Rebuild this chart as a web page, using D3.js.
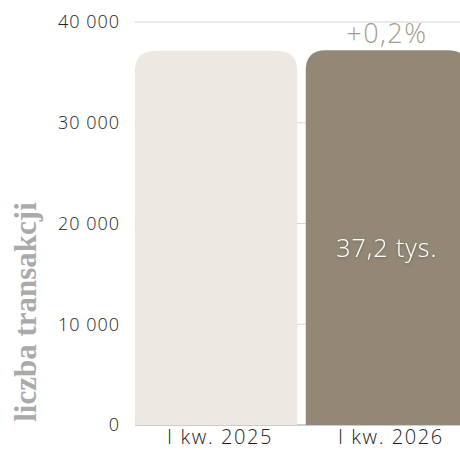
<!DOCTYPE html>
<html>
<head>
<meta charset="utf-8">
<script src="https://cdn.jsdelivr.net/npm/d3@7"></script>
<style>
  body { margin: 0; background: #fff; }
  svg { display: block; }
  .tick text { font-family: "Open Sans", Lato, sans-serif; font-weight: 300; fill: #222; }
</style>
</head>
<body>
<div id="chart"></div>
<script>
// data
const quarters = ["I kw. 2025", "I kw. 2026"];
const transactions = [37130, 37200];
const yTicks = [0, 10000, 20000, 30000, 40000];
const changeLabel = "+0,2%";
const valueLabel = "37,2 tys.";

const width = 460, height = 450;
const margin = { top: 22, right: -8, bottom: 25, left: 135 };

const svg = d3.select("#chart").append("svg")
    .attr("width", width)
    .attr("height", height);

const x = d3.scaleBand()
    .domain(quarters)
    .range([margin.left, width - margin.right])
    .paddingInner(0.05);

const y = d3.scaleLinear()
    .domain([0, 40000])
    .range([height - margin.bottom, margin.top]);

// grid
svg.append("g")
    .selectAll("line")
    .data(yTicks)
    .join("line")
    .attr("x1", margin.left)
    .attr("x2", width)
    .attr("y1", d => y(d))
    .attr("y2", d => y(d))
    .attr("stroke", d => d === 0 ? "#999" : "#d6d6d6")
    .attr("stroke-width", 1);

// y axis labels
const fmt = d => d3.format(",")(d).replace(/,/g, " ");
const yAxis = svg.append("g")
    .attr("transform", `translate(${margin.left},0)`)
    .call(d3.axisLeft(y).tickValues(yTicks).tickFormat(fmt).tickSize(0).tickPadding(15));
yAxis.select(".domain").remove();
yAxis.selectAll("text").style("font-size", "18px").style("letter-spacing", "1px");

// x axis labels
const xAxis = svg.append("g")
    .attr("transform", `translate(0,${height - margin.bottom})`)
    .call(d3.axisBottom(x).tickSize(0).tickPadding(5));
xAxis.select(".domain").remove();
xAxis.selectAll("text").style("font-size", "20px").style("letter-spacing", "1.6px").attr("dx", "4px");

// bars, rounded top corners only
const colors = ["#ede8e1", "#928875"];
const r = 20;
function barPath(x0, y0, w, h) {
    return `M${x0},${y0 + h}V${y0 + r}Q${x0},${y0} ${x0 + r},${y0}H${x0 + w - r}Q${x0 + w},${y0} ${x0 + w},${y0 + r}V${y0 + h}Z`;
}
svg.append("g")
    .selectAll("path")
    .data(transactions)
    .join("path")
    .attr("d", (d, i) => barPath(x(quarters[i]), y(d), x.bandwidth(), y(0) - y(d)))
    .attr("fill", (d, i) => colors[i]);

// change label above second bar
svg.append("text")
    .attr("x", x(quarters[1]) + x.bandwidth() / 2)
    .attr("y", y(transactions[1]) - 7)
    .attr("text-anchor", "middle")
    .style("font-family", "'Open Sans', Lato, sans-serif")
    .style("font-weight", 300)
    .style("font-size", "27px")
    .style("letter-spacing", "1.5px")
    .style("fill", "#a49d8d")
    .text(changeLabel);

// value label inside second bar
const defs = svg.append("defs");
const f = defs.append("filter").attr("id", "shadow").attr("x", "-20%").attr("y", "-40%").attr("width", "140%").attr("height", "180%");
f.append("feDropShadow").attr("dx", 0).attr("dy", 1).attr("stdDeviation", 1.5).attr("flood-color", "#000").attr("flood-opacity", 0.3);

svg.append("text")
    .attr("x", x(quarters[1]) + x.bandwidth() / 2)
    .attr("y", y(transactions[1] / 2) + 19)
    .attr("text-anchor", "middle")
    .attr("filter", "url(#shadow)")
    .style("font-family", "'Open Sans', Lato, sans-serif")
    .style("font-weight", 300)
    .style("font-size", "25px")
    .style("letter-spacing", "1px")
    .style("fill", "#fff")
    .text(valueLabel);

// y axis title
svg.append("text")
    .attr("transform", `translate(36,${312}) rotate(-90)`)
    .attr("text-anchor", "middle")
    .style("font-family", "'Liberation Serif', 'DejaVu Serif', serif")
    .style("font-weight", "bold")
    .style("font-size", "31px")
    .style("fill", "#aaaaaa")
    .text("liczba transakcji");
</script>
</body>
</html>
